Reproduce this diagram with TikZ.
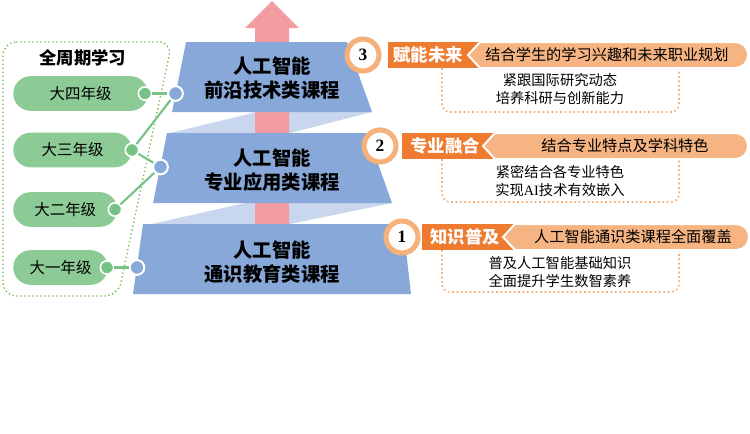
\documentclass[tikz,border=0pt]{standalone}
\usepackage{fontspec}
\setmainfont{Noto Sans CJK SC}
\newfontfamily\numfont{Liberation Serif}
\usepackage{xcolor}
\usetikzlibrary{positioning}

\definecolor{trapblue}{HTML}{87A8D8}
\definecolor{ribbonblue}{HTML}{C8D7ED}
\definecolor{arrowpink}{HTML}{F29BA1}
\definecolor{pillgreen}{HTML}{8CCB96}
\definecolor{dotgreen}{HTML}{78C287}
\definecolor{framegreen}{HTML}{6DBB4F}
\definecolor{tagorange}{HTML}{EE7B30}
\definecolor{bandorange}{HTML}{F5B482}
\definecolor{ringorange}{HTML}{F6B07A}

\begin{document}
\begin{tikzpicture}[x=0.75pt,y=0.75pt,yscale=-1,xscale=1,
  pill/.style={fill=pillgreen,rounded corners=13pt,minimum height=26pt,inner sep=0pt,anchor=west,font=\fontsize{11.6}{13}\selectfont},
  gdot/.style={circle,fill=dotgreen,draw=white,line width=1.2pt,minimum size=10pt,inner sep=0pt},
  bdot/.style={circle,fill=trapblue,draw=white,line width=1.5pt,minimum size=11pt,inner sep=0pt},
  gline/.style={dotgreen,line width=1.6pt},
  traptext/.style={align=center,font=\fontsize{14.5}{18}\selectfont\bfseries},
  numring/.style={circle,fill=white,draw=ringorange,line width=3.8pt,minimum size=24pt,inner sep=0pt,font=\fontsize{13}{13}\selectfont\numfont\bfseries},
  tagtext/.style={text=white,font=\fontsize{13}{13}\selectfont\bfseries},
  bandtext/.style={font=\fontsize{11.4}{13}\selectfont},
  boxtext/.style={align=center,font=\fontsize{10.7}{13.5}\selectfont},
  boxline/.style={dotted,ringorange,line width=1.3pt,rounded corners=6pt}]

\useasboundingbox (0,0) rectangle (750,433);

% left frame
\draw[dotted,framegreen,line width=1pt,rounded corners=10pt] (3,42) -- (172,42) -- (118,296) -- (3,296) -- cycle;
\node[font=\fontsize{13}{13}\selectfont\bfseries] (title) at (83,58) {全周期学习};

% ribbons, arrow, steps
\fill[ribbonblue] (170,133) -- (257,112) -- (372,112) -- (290,133) -- cycle;
\fill[ribbonblue] (152,224) -- (245,203) -- (392,203) -- (290,224) -- cycle;
\fill[arrowpink] (255,224) -- (255,28) -- (245,28) -- (272,1) -- (299,28) -- (289,28) -- (289,224) -- cycle;

\fill[trapblue] (186,42) -- (347,42) -- (372,112) -- (172,112) -- cycle;
\fill[trapblue] (167,133) -- (367,133) -- (392,203) -- (153,203) -- cycle;
\fill[trapblue] (143,224) -- (403,224) -- (411,294) -- (133,294) -- cycle;

\node[traptext] (trap3) at (272,78) {人工智能\\前沿技术类课程};
\node[traptext] (trap2) at (272,170) {人工智能\\专业应用类课程};
\node[traptext] (trap1) at (272,262) {人工智能\\通识教育类课程};

% grades
\node[pill,minimum width=101pt] (year4) at (13,93.5) {大四年级};
\node[pill,minimum width=89pt] (year3) at (13,150) {大三年级};
\node[pill,minimum width=78pt] (year2) at (13,209.5) {大二年级};
\node[pill,minimum width=71pt] (year1) at (13,267.5) {大一年级};

\node[gdot] (g4) at (145,93.5) {};
\node[gdot] (g3) at (132,150) {};
\node[gdot] (g2) at (115,209.5) {};
\node[gdot] (g1) at (107,267.5) {};

\node[bdot] (b3) at (175.5,93.5) {};
\node[bdot] (b2) at (160.5,167) {};
\node[bdot] (b1) at (137,267.5) {};

\draw[gline] (g4) -- (b3);
\draw[gline] (g3) -- (b3);
\draw[gline] (g3) -- (b2);
\draw[gline] (g2) -- (b2);
\draw[gline] (g1) -- (b1);

% row 3
\draw[boxline] (442,55) -- (442,112) -- (679,112) -- (679,55);
\fill[tagorange] (388,42) rectangle (484,68);
\filldraw[bandorange,draw=white,line width=1.5pt] (468,55) -- (480,42) [rounded corners=9.5pt] -- (748,42) -- (748,68) [sharp corners] -- (480,68) -- cycle;
\node[numring] (n3) at (363,55) {3};
\node[tagtext] (tag3) at (428,55) {赋能未来};
\node[bandtext] (band3) at (607,55) {结合学生的学习兴趣和未来职业规划};
\node[boxtext] (box3) at (560,89) {紧跟国际研究动态\\培养科研与创新能力};

% row 2
\draw[boxline] (442,146) -- (442,202) -- (679,202) -- (679,146);
\fill[tagorange] (402,133) rectangle (499,159);
\filldraw[bandorange,draw=white,line width=1.5pt] (483,146) -- (495,133) [rounded corners=9.5pt] -- (748,133) -- (748,159) [sharp corners] -- (495,159) -- cycle;
\node[numring] (n2) at (380,146) {2};
\node[tagtext] (tag2) at (445,146) {专业融合};
\node[bandtext] (band2) at (625,146) {结合专业特点及学科特色};
\node[boxtext] (box2) at (560,181) {紧密结合各专业特色\\实现{\numfont AI}技术有效嵌入};

% row 1
\draw[boxline] (442,237) -- (442,292) -- (679,292) -- (679,237);
\fill[tagorange] (422,224) rectangle (519,250);
\filldraw[bandorange,draw=white,line width=1.5pt] (503,237) -- (515,224) [rounded corners=9.5pt] -- (749,224) -- (749,250) [sharp corners] -- (515,250) -- cycle;
\node[numring] (n1) at (402,237) {1};
\node[tagtext] (tag1) at (465,237) {知识普及};
\node[bandtext] (band1) at (633,237) {人工智能通识类课程全面覆盖};
\node[boxtext] (box1) at (560,272) {普及人工智能基础知识\\全面提升学生数智素养};

\end{tikzpicture}
\end{document}
